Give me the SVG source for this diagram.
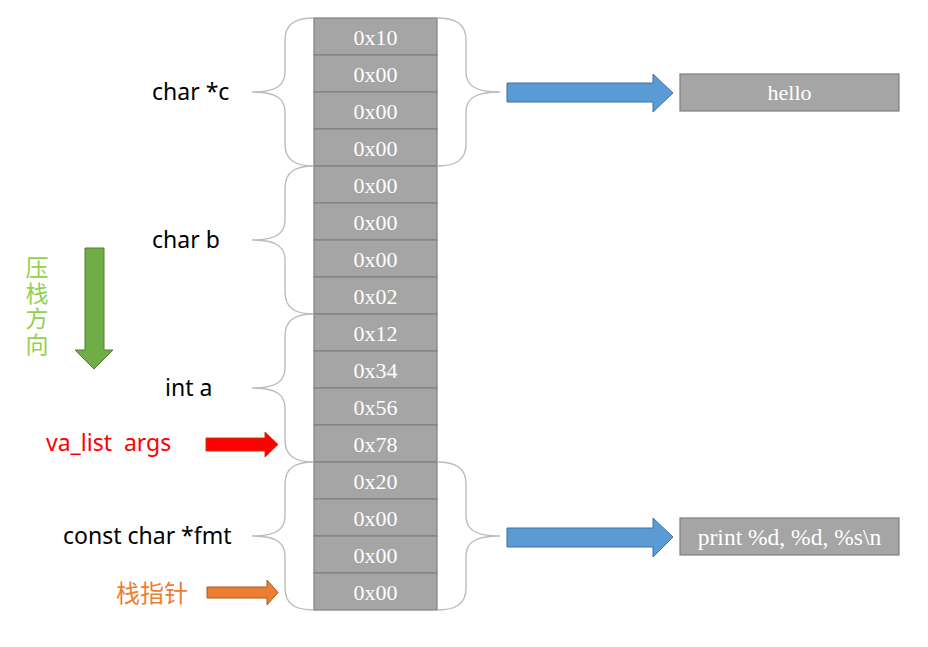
<svg xmlns="http://www.w3.org/2000/svg" width="928" height="647" viewBox="0 0 928 647">
<style>
.cell{fill:#a5a5a5;stroke:#808080;stroke-width:1.2}
.ct{font-family:"Liberation Serif",serif;font-size:22px;fill:#ffffff;text-anchor:middle;dominant-baseline:central}
.lbl{font-family:"Noto Sans","Noto Sans CJK SC",sans-serif;font-size:23px;fill:#000000;dominant-baseline:central}
.brace{fill:none;stroke:#bcbcbc;stroke-width:1.4}
</style>
<rect width="928" height="647" fill="#ffffff"/>
<g id="stack">
<rect class="cell" x="314" y="18" width="123" height="37"/><text class="ct" x="375.5" y="37">0x10</text>
<rect class="cell" x="314" y="55" width="123" height="37"/><text class="ct" x="375.5" y="74">0x00</text>
<rect class="cell" x="314" y="92" width="123" height="37"/><text class="ct" x="375.5" y="111">0x00</text>
<rect class="cell" x="314" y="129" width="123" height="37"/><text class="ct" x="375.5" y="148">0x00</text>
<rect class="cell" x="314" y="166" width="123" height="37"/><text class="ct" x="375.5" y="185">0x00</text>
<rect class="cell" x="314" y="203" width="123" height="37"/><text class="ct" x="375.5" y="222">0x00</text>
<rect class="cell" x="314" y="240" width="123" height="37"/><text class="ct" x="375.5" y="259">0x00</text>
<rect class="cell" x="314" y="277" width="123" height="37"/><text class="ct" x="375.5" y="296">0x02</text>
<rect class="cell" x="314" y="314" width="123" height="37"/><text class="ct" x="375.5" y="333">0x12</text>
<rect class="cell" x="314" y="351" width="123" height="37"/><text class="ct" x="375.5" y="370">0x34</text>
<rect class="cell" x="314" y="388" width="123" height="37"/><text class="ct" x="375.5" y="407">0x56</text>
<rect class="cell" x="314" y="425" width="123" height="37"/><text class="ct" x="375.5" y="444">0x78</text>
<rect class="cell" x="314" y="462" width="123" height="37"/><text class="ct" x="375.5" y="481">0x20</text>
<rect class="cell" x="314" y="499" width="123" height="37"/><text class="ct" x="375.5" y="518">0x00</text>
<rect class="cell" x="314" y="536" width="123" height="37"/><text class="ct" x="375.5" y="555">0x00</text>
<rect class="cell" x="314" y="573" width="123" height="37"/><text class="ct" x="375.5" y="592">0x00</text>
</g>
<g id="braces">
<path class="brace" d="M314,18 C295,18 285,24 285,40 L285,72 C285,86 275,92 252,92 C275,92 285,98 285,112 L285,144 C285,160 295,166 314,166"/>
<path class="brace" d="M314,166 C295,166 285,172 285,188 L285,220 C285,234 275,240 252,240 C275,240 285,246 285,260 L285,292 C285,308 295,314 314,314"/>
<path class="brace" d="M314,314 C295,314 285,320 285,336 L285,368 C285,382 275,388 252,388 C275,388 285,394 285,408 L285,440 C285,456 295,462 314,462"/>
<path class="brace" d="M314,462 C295,462 285,468 285,484 L285,516 C285,530 275,536 252,536 C275,536 285,542 285,556 L285,588 C285,604 295,610 314,610"/>
<path class="brace" d="M437,18 C456,18 466,24 466,40 L466,72 C466,86 476,92 500,92 C476,92 466,98 466,112 L466,144 C466,160 456,166 437,166"/>
<path class="brace" d="M437,462 C456,462 466,468 466,484 L466,516 C466,530 476,536 500,536 C476,536 466,542 466,556 L466,588 C466,604 456,610 437,610"/>
</g>
<g id="labels">
<text class="lbl" x="152" y="91">char *c</text>
<text class="lbl" x="152" y="239">char b</text>
<text class="lbl" x="165" y="387">int a</text>
<text class="lbl" x="63" y="535">const char *fmt</text>
<text class="lbl" x="46" y="442" style="fill:#ff0000;white-space:pre" xml:space="preserve">va_list  args</text>
<text class="lbl" x="116" y="591" style="fill:#ed7d31;font-family:'Noto Sans CJK SC',sans-serif;font-size:24px">栈指针</text>
<text x="37" y="256" style="font-family:'Noto Sans CJK SC',sans-serif;font-size:23px;fill:#92d050;writing-mode:vertical-rl;letter-spacing:2.5px">压栈方向</text>
</g>
<g id="connectors">
<path d="M507,83 L653,83 L653,74 L673,93 L653,112 L653,102 L507,102 Z" fill="#5b9bd5" stroke="#41719c" stroke-width="1"/>
<path d="M507,528 L653,528 L653,518 L673,537 L653,557 L653,547 L507,547 Z" fill="#5b9bd5" stroke="#41719c" stroke-width="1"/>
<path d="M85,248 L104,248 L104,350 L113,350 L94,369 L75,350 L85,350 Z" fill="#70ad47" stroke="#507e32" stroke-width="1"/>
<path d="M206,438 L265,438 L265,432 L278,444.5 L265,457 L265,451 L206,451 Z" fill="#ff0000" stroke="#c04000" stroke-width="1"/>
<path d="M207,587 L267,587 L267,580 L278,592.5 L267,605 L267,598 L207,598 Z" fill="#ed7d31" stroke="#ae5a21" stroke-width="1"/>
</g>
<g id="hello">
<rect x="680" y="74" width="219" height="37" fill="#a5a5a5" stroke="#7f7f7f" stroke-width="1.2"/>
<text class="ct" x="789.5" y="92.5">hello</text>
</g>
<g id="fmtstr">
<rect x="680" y="518" width="219" height="37" fill="#a5a5a5" stroke="#7f7f7f" stroke-width="1.2"/>
<text class="ct" x="789.5" y="536.5" style="font-size:23.5px">print %d, %d, %s\n</text>
</g>
</svg>
